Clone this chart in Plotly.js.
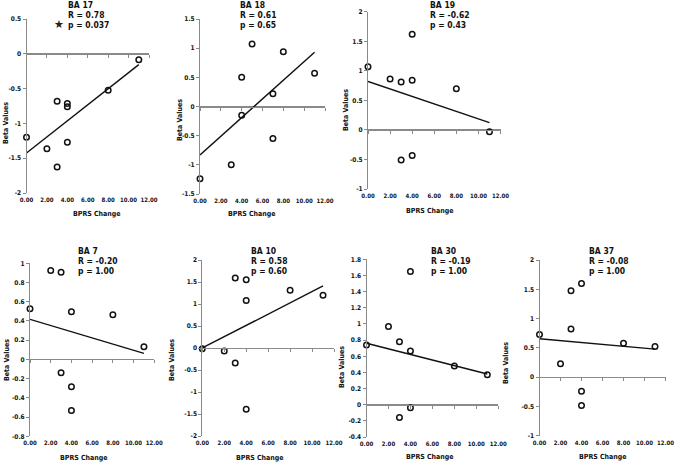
<!DOCTYPE html>
<html>
<head>
<meta charset="utf-8">
<script src="https://cdn.plot.ly/plotly-3.0.1.min.js"></script>
<style>html,body{margin:0;padding:0;background:#fff;}#chart{width:675px;height:463px;}</style>
</head>
<body>
<div id="chart"></div>
<script>
// ---------------- DATA ----------------
const bprsChange = [0, 2, 3, 3, 4, 4, 4, 8, 11];
const bprsChange18 = [0, 3, 4, 4, 5, 7, 7, 8, 11];

const beta17 = [-1.20, -1.365, -0.68, -1.625, -0.715, -0.76, -1.27, -0.525, -0.085];
const beta18 = [-1.24, -1.00, 0.50, -0.15, 1.07, 0.22, -0.55, 0.94, 0.57];
const beta19 = [1.07, 0.86, 0.81, -0.51, 1.62, 0.84, -0.435, 0.695, -0.03];
const beta7  = [0.528, 0.924, 0.906, -0.139, 0.497, -0.285, -0.531, 0.465, 0.132];
const beta10 = [-0.015, -0.068, 1.59, -0.34, 1.55, 1.08, -1.39, 1.31, 1.20];
const beta30 = [0.74, 0.967, 0.78, -0.16, 1.65, 0.665, -0.037, 0.479, 0.372];
const beta37 = [0.73, 0.228, 1.474, 0.82, 1.60, -0.24, -0.484, 0.58, 0.524];

// fitted-line end points (at BPRS change 0 and 11)
const trendX = [0, 11];
const trend17 = [-1.426, -0.156];
const trend18 = [-0.83, 0.93];
const trend19 = [0.82, 0.124];
const trend7  = [0.417, 0.0625];
const trend10 = [0.0, 1.41];
const trend30 = [0.76, 0.38];
const trend37 = [0.655, 0.478];

const panelNames = ['BA 17', 'BA 18', 'BA 19', 'BA 7', 'BA 10', 'BA 30', 'BA 37'];
const rLabels = ['R = 0.78', 'R = 0.61', 'R = -0.62', 'R = -0.20', 'R = 0.58', 'R = -0.19', 'R = -0.08'];
const pLabels = ['p = 0.037', 'p = 0.65', 'p = 0.43', 'p = 1.00', 'p = 0.60', 'p = 1.00', 'p = 1.00'];

const xTickVals = [0, 2, 4, 6, 8, 10, 12];
const xTickText = ['0.00', '2.00', '4.00', '6.00', '8.00', '10.00', '12.00'];

const yTicks17 = [-2, -1.5, -1, -0.5, 0, 0.5];
const yTicks18 = [-1.5, -1, -0.5, 0, 0.5, 1, 1.5];
const yTicks19 = [-1, -0.5, 0, 0.5, 1, 1.5, 2];
const yTicks7  = [-0.8, -0.6, -0.4, -0.2, 0, 0.2, 0.4, 0.6, 0.8, 1];
const yTicks10 = [-2, -1.5, -1, -0.5, 0, 0.5, 1, 1.5, 2];
const yTicks30 = [-0.4, -0.2, 0, 0.2, 0.4, 0.6, 0.8, 1, 1.2, 1.4, 1.6, 1.8];
const yTicks37 = [-1, -0.5, 0, 0.5, 1, 1.5, 2];

const xAxisTitle = 'BPRS Change';
const yAxisTitle = 'Beta Values';

// ---------------- LAYOUT GEOMETRY (pixels) ----------------
const W = 675, H = 463;
const FONT = '"Liberation Sans Narrow", "DejaVu Sans Condensed", "Liberation Sans", Arial, sans-serif';
const INK = '#111111';
const AXC = '#8a8a8a';

const panels = [
  {x: bprsChange,   y: beta17, t: trend17, yt: yTicks17, left: 26.5, right: 149,   top: 19,    bottom: 193,   titleX: 66,  titleY: 5,   star: true,
   xtX: 97,  xtY: 214, ytX: 6,   ytY: 123},
  {x: bprsChange18, y: beta18, t: trend18, yt: yTicks18, left: 200,  right: 325,   top: 19,    bottom: 194,   titleX: 238, titleY: 5,
   xtX: 252, xtY: 214, ytX: 180, ytY: 120},
  {x: bprsChange,   y: beta19, t: trend19, yt: yTicks19, left: 368,  right: 500.5, top: 11.7,  bottom: 189,   titleX: 428, titleY: 5,
   xtX: 430, xtY: 211, ytX: 346, ytY: 110},
  {x: bprsChange,   y: beta7,  t: trend7,  yt: yTicks7,  left: 30,   right: 154.3, top: 263.3, bottom: 436.3, titleX: 76,  titleY: 251,
   xtX: 84,  xtY: 458, ytX: 7,   ytY: 360},
  {x: bprsChange,   y: beta10, t: trend10, yt: yTicks10, left: 202.3,right: 334,   top: 260,   bottom: 436,   titleX: 249, titleY: 251,
   xtX: 260, xtY: 458, ytX: 172, ytY: 360},
  {x: bprsChange,   y: beta30, t: trend30, yt: yTicks30, left: 366.5,right: 498.3, top: 259.3, bottom: 437,   titleX: 429, titleY: 251,
   xtX: 430, xtY: 457, ytX: 342, ytY: 367},
  {x: bprsChange,   y: beta37, t: trend37, yt: yTicks37, left: 539.5,right: 665.5, top: 260,   bottom: 435.7, titleX: 587, titleY: 251,
   xtX: 603, xtY: 457, ytX: 506, ytY: 363}
];

const px = v => v / W;
const py = v => 1 - v / H;

const traces = [];
const annotations = [];
const layout = {
  width: W, height: H,
  margin: {l: 0, r: 0, t: 0, b: 0, pad: 0},
  paper_bgcolor: '#ffffff',
  plot_bgcolor: 'rgba(0,0,0,0)',
  showlegend: false,
  font: {family: FONT, color: INK, size: 7, weight: 'bold'},
  annotations: annotations
};

panels.forEach((p, i) => {
  const n = i + 1;
  const xName = n === 1 ? 'xaxis' : 'xaxis' + n;
  const yName = n === 1 ? 'yaxis' : 'yaxis' + n;
  const xRef = 'x' + (n === 1 ? '' : n);
  const yRef = 'y' + (n === 1 ? '' : n);
  const ymin = p.yt[0], ymax = p.yt[p.yt.length - 1];
  const yDomain = [py(p.bottom), py(p.top)];

  layout[xName] = {
    domain: [px(p.left), px(p.right)], range: [0, 12], anchor: 'free', position: yDomain[0],
    showline: false, zeroline: false, showgrid: false, ticks: '', tickangle: 0,
    tickvals: xTickVals, ticktext: xTickText, ticklabelstandoff: 2, ticklabeloverflow: 'allow',
    tickfont: {family: FONT, size: 6, color: INK, weight: 'bold'},
    fixedrange: true
  };
  layout[yName] = {
    domain: yDomain, range: [ymin, ymax], anchor: xRef,
    showline: true, linecolor: AXC, linewidth: 1, showgrid: false,
    zeroline: true, zerolinecolor: AXC, zerolinewidth: 1,
    ticks: 'outside', ticklen: 3, tickwidth: 1, tickcolor: AXC,
    tickvals: p.yt, ticktext: p.yt.map(v => String(v)),
    tickfont: {family: FONT, size: 6.5, color: INK, weight: 'bold'},
    fixedrange: true
  };
  // horizontal axis (with tick marks) drawn at beta = 0
  const zeroPos = yDomain[0] + (0 - ymin) / (ymax - ymin) * (yDomain[1] - yDomain[0]);
  const ovName = 'xaxis' + (n + 7);
  const ovRef = 'x' + (n + 7);
  layout[ovName] = {
    overlaying: xRef, range: [0, 12], anchor: 'free', position: zeroPos,
    showline: true, linecolor: AXC, linewidth: 1, zeroline: false, showgrid: false,
    ticks: 'outside', ticklen: 3, tickwidth: 1, tickcolor: AXC,
    tickvals: xTickVals, showticklabels: false, fixedrange: true
  };
  traces.push({type: 'scatter', mode: 'lines', x: [], y: [], xaxis: ovRef, yaxis: yRef, hoverinfo: 'skip'});

  traces.push({
    type: 'scatter', mode: 'markers', x: p.x, y: p.y, xaxis: xRef, yaxis: yRef,
    cliponaxis: false,
    marker: {symbol: 'circle-open', size: 5.5, color: INK, line: {width: 1.5, color: INK}},
    hoverinfo: 'x+y'
  });
  traces.push({
    type: 'scatter', mode: 'lines', x: trendX, y: p.t, xaxis: xRef, yaxis: yRef,
    cliponaxis: false, line: {color: INK, width: 1.4}, hoverinfo: 'skip'
  });

  const tf = {family: FONT, size: 8.5, color: INK, weight: 'bold'};
  const lines = [panelNames[i], rLabels[i], pLabels[i]];
  lines.forEach((txt, k) => {
    annotations.push({xref: 'paper', yref: 'paper', x: px(p.titleX), y: py(p.titleY + k * 10),
      xanchor: 'left', yanchor: 'middle', text: txt, showarrow: false, font: tf});
  });
  if (p.star) {
    annotations.push({xref: 'paper', yref: 'paper', x: px(p.titleX - 0.5), y: py(p.titleY + 20),
      xanchor: 'right', yanchor: 'middle', text: '★', showarrow: false,
      font: {family: '"DejaVu Sans", sans-serif', size: 11, color: '#222'}});
  }
  annotations.push({xref: 'paper', yref: 'paper', x: px(p.xtX), y: py(p.xtY),
    xanchor: 'center', yanchor: 'middle', text: xAxisTitle, showarrow: false,
    font: {family: FONT, size: 7, color: INK, weight: 'bold'}});
  annotations.push({xref: 'paper', yref: 'paper', x: px(p.ytX), y: py(p.ytY),
    xanchor: 'center', yanchor: 'middle', text: yAxisTitle, textangle: -90, showarrow: false,
    font: {family: FONT, size: 7, color: INK, weight: 'bold'}});
});

Plotly.newPlot('chart', traces, layout, {displayModeBar: false, staticPlot: true});
</script>
</body>
</html>
